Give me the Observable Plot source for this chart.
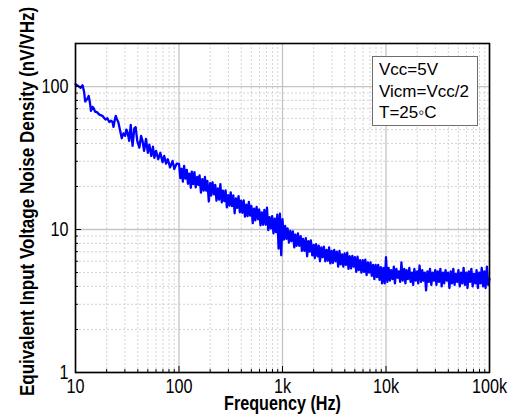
<!DOCTYPE html>
<html><head><meta charset="utf-8">
<script src="https://cdn.jsdelivr.net/npm/d3@7"></script>
<script src="https://cdn.jsdelivr.net/npm/@observablehq/plot@0.6"></script>
<style>
body{margin:0;background:#fff;}
#wrap{position:relative;width:516px;height:419px;}
#note{position:absolute;left:372px;top:56px;width:106px;height:70px;box-sizing:border-box;border:1px solid #6e6e6e;background:#fff;padding:2px 0 0 6px;font-family:"Liberation Sans",Arial,sans-serif;font-size:17px;line-height:21.5px;color:#000;}
</style></head><body>
<div id="wrap"><div id="note"></div></div>
<script>
// ---- data ----
const freqLow = [10, 10.6, 11.2, 11.7, 12.1, 12.4, 13.0, 13.4, 13.8, 14.1, 14.6, 14.9, 15.5, 16.0, 17.0, 18.2, 19.0, 19.5, 20.3, 21.2, 22.0, 22.8, 23.3, 24.0, 24.5, 25.2, 25.9, 27.0, 28.0, 29.0, 30.2, 31.0, 31.8, 33.0, 34.2, 35.0, 35.6, 37.0, 38.1, 39.5, 41.4, 43.0, 44.4, 46, 48, 50, 51.7, 54, 56, 57.8, 60, 63, 66, 69.4, 72, 75, 78, 82, 86.7, 90, 95];
const nvLow = [104, 101, 98, 102, 92, 78.6, 82, 86, 77, 67.6, 72, 71, 66.5, 66.5, 63.6, 62.4, 60, 58.8, 60, 56.5, 57.6, 56.5, 52.2, 58.8, 62.4, 58.8, 56.5, 49, 43.5, 47, 45.2, 50, 48, 41.7, 54, 43.5, 38.5, 51, 52, 41.7, 37.4, 45.2, 41.7, 35.5, 43, 34.4, 39.2, 32.7, 38, 31.7, 35.5, 31, 34.4, 29.6, 32.7, 28.9, 31, 27.2, 30.2, 26.5, 28.9];

const freq100 = [100,103,106,109,112,115.5,119,122,126,130,133,137,141,145,150,154,158,163,168,173,178,183,188,194,200,205,211,218,224,230,237,244,251,259,266,274,282,290,299,307,316,325,335,345,355,365,376,387,398,410,422,434,447,460,473,487,501,516,531,546,562,579,596,613,631,649,668,688,708,729,750,772,794,818,841,866,891,917,944,972];
const nv100 = [28.8,22.9,26.6,21.6,27.9,22.7,26.1,20.9,24.6,19.6,25.4,20.8,25.2,19.7,23.3,20.5,23.9,18.1,22.5,18.7,23.3,18.7,21.9,15.7,21.1,17.3,21.4,17.6,20.5,15.9,19.4,16.2,20.8,15.5,18.7,15.8,18.8,14.3,17.4,14.7,18.2,14.6,17.3,13.0,16.5,14.2,17.1,13.2,15.9,13.1,16.0,12.3,14.9,12.4,15.6,12.5,14.6,11.1,14.0,11.6,14.4,11.8,13.8,10.7,13.2,10.8,13.7,10.8,14.2,9.9,12.2,10.2,12.4,9.4,11.9,9.6,12.7,7.35,12.9,6.6];

const freq1k = [1000,1030,1060,1090,1120,1155,1190,1220,1260,1300,1330,1370,1410,1450,1500,1540,1580,1630,1680,1730,1780,1830,1880,1940,2000,2050,2110,2180,2240,2300,2370,2440,2510,2590,2660,2740,2820,2900,2990,3070,3160,3250,3350,3450,3550,3650,3760,3870,3980,4100,4220,4340,4470,4600,4730,4870,5010,5160,5310,5460,5620,5790,5960,6130,6310,6490,6680,6880,7080,7290,7500,7720,7940,8180,8410,8660,8910,9170,9440,9720];
const nv1k = [11.8,8.5,10.6,8.6,10.2,8.1,9.8,8.3,9.7,7.5,9.2,7.7,9.4,7.7,9.0,7.1,8.6,7.1,8.7,6.5,8.3,7.0,8.4,6.6,7.8,6.3,7.9,6.5,7.7,6.0,7.5,6.4,7.6,6.0,7.2,6.05,7.5,5.8,7.1,5.85,7.2,6.0,7.0,5.5,7.1,5.7,6.7,5.5,6.8,5.65,6.9,5.3,6.5,5.35,6.55,5.5,6.4,5.05,6.45,5.2,6.1,5.0,6.1,5.05,6.15,4.8,5.9,5.0,5.9,4.75,5.65,4.5,5.65,4.65,5.65,4.45,5.45,4.2,5.4,4.2];

const freq10k = [10000,10300,10600,10900,11200,11550,11900,12200,12600,13000,13300,13700,14100,14500,15000,15400,15800,16300,16800,17300,17800,18300,18800,19400,20000,20500,21100,21800,22400,23000,23700,24400,25100,25900,26600,27400,28200,29000,29900,30700,31600,32500,33500,34500,35500,36500,37600,38700,39800,41000,42200,43400,44700,46000,47300,48700,50100,51600,53100,54600,56200,57900,59600,61300,63100,64900,66800,68800,70800,72900,75000,77200,79400,81800,84100,86600,89100,91700,94400,97200,100000];
const nv10k = [6.4,4.3,5.4,4.4,5.2,4.5,5.5,4.2,5.3,4.6,5.1,4.3,5.9,4.4,5.3,4.2,5.2,4.5,5.4,4.3,5.0,4.1,5.3,4.4,5.1,4.2,5.6,4.3,5.2,4.4,5.0,3.75,5.1,4.3,5.3,4.1,5.0,4.4,5.2,4.1,5.1,4.3,5.3,4.0,5.0,4.2,5.2,4.4,5.0,3.9,5.1,4.2,5.3,4.1,4.9,4.3,5.2,4.0,5.0,4.2,5.4,4.1,5.0,3.9,5.1,4.3,5.3,4.0,4.9,4.2,5.2,3.9,5.0,4.2,5.4,4.0,5.1,3.9,5.5,4.1,4.5];

const xMajor = [10, 100, 1000, 10000, 100000];
const xLabels = ["10", "100", "1k", "10k", "100k"];
const xMinor = [20,30,40,50,60,70,80,90,200,300,400,500,600,700,800,900,2000,3000,4000,5000,6000,7000,8000,9000,20000,30000,40000,50000,60000,70000,80000,90000];
const yMajor = [1, 10, 100];
const yLabels = ["1", "10", "100"];
const yMinor = [2,3,4,5,6,7,8,9,20,30,40,50,60,70,80,90];
const xTitle = "Frequency (Hz)";
const yTitle = "Equivalent Input Voltage Noise Density (nV/VHz)";
const noteLines = ["Vcc=5V", "Vicm=Vcc/2", "T=25\u25E6C"];

// ---- build table ----
const freqs = [...freqLow, ...freq100, ...freq1k, ...freq10k];
const vals = [...nvLow, ...nv100, ...nv1k, ...nv10k];
const data = freqs.map((f, i) => ({f, v: vals[i]}));

const font = '"Liberation Sans", Arial, sans-serif';
const chart = Plot.plot({
  width: 516,
  height: 419,
  marginLeft: 75,
  marginRight: 27,
  marginTop: 43,
  marginBottom: 47,
  style: {fontFamily: font, fontSize: "19.5px", color: "#000", background: "#fff"},
  x: {type: "log", domain: [10, 100000]},
  y: {type: "log", domain: [1, 200]},
  marks: [
    Plot.gridX(xMinor, {stroke: "#d4d4d4", strokeOpacity: 1, strokeWidth: 1, strokeDasharray: "2,2"}),
    Plot.gridY(yMinor, {stroke: "#d4d4d4", strokeOpacity: 1, strokeWidth: 1, strokeDasharray: "2,2"}),
    Plot.gridX(xMajor, {stroke: "#c4c4c4", strokeOpacity: 1, strokeWidth: 1.3}),
    Plot.gridY(yMajor, {stroke: "#c4c4c4", strokeOpacity: 1, strokeWidth: 1.3}),
    Plot.line(data, {x: "f", y: "v", stroke: "#0000ff", strokeWidth: 2.3}),
    Plot.axisX(xMajor, {tickSize: -6, tickFormat: () => "", label: null, stroke: "#000"}),
    Plot.axisX(xMinor, {tickSize: -3, tickFormat: () => "", label: null, stroke: "#000"}),
    Plot.axisY(yMajor, {tickSize: -6, tickFormat: () => "", label: null, stroke: "#000"}),
    Plot.axisY(yMinor, {tickSize: -3, tickFormat: () => "", label: null, stroke: "#000"}),
    Plot.axisX(xMajor, {tickSize: 0, tickPadding: 7, tickFormat: d => xLabels[xMajor.indexOf(d)], label: null, fill: "#000"}),
    Plot.axisY(yMajor, {tickSize: 0, tickPadding: 7, tickFormat: d => yLabels[yMajor.indexOf(d)], label: null, fill: "#000"}),
    Plot.frame({stroke: "#000", strokeWidth: 1.6}),
    Plot.text([xTitle], {text: d => d, frameAnchor: "bottom", dy: 37.5, fontWeight: "bold", fontSize: 19.5, fill: "#000"}),
    Plot.text([yTitle], {text: d => d, frameAnchor: "left", textAnchor: "middle", lineAnchor: "middle", dx: -48.5, dy: -6.5, rotate: -90, fontWeight: "bold", fontSize: 20.5, fill: "#000"})
  ]
});
const wrap = document.getElementById("wrap");
wrap.insertBefore(chart, wrap.firstChild);
// the reference's axis lettering is narrow (about 83% of the normal width)
chart.querySelectorAll("text").forEach(t => {
  if (!t.textContent) return;
  const w = t.getComputedTextLength();
  if (w > 0) {
    t.setAttribute("textLength", (w * 0.83).toFixed(2));
    t.setAttribute("lengthAdjust", "spacingAndGlyphs");
  }
});
document.getElementById("note").innerHTML = noteLines.map(s => `<div>${s}</div>`).join("");
</script>
</body></html>
